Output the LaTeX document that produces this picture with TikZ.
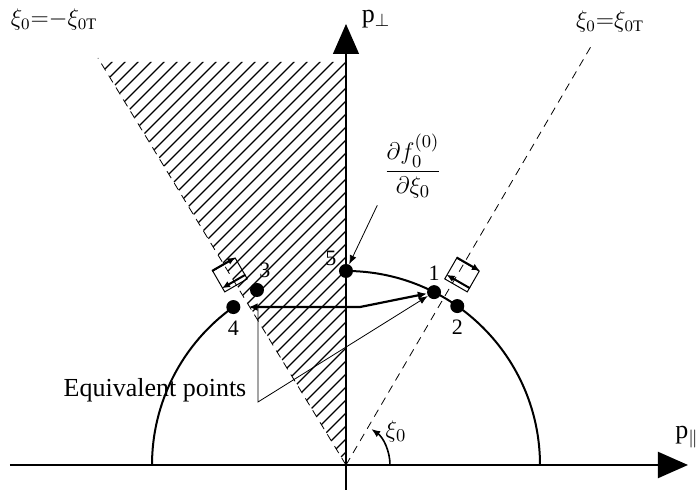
\documentclass[tikz,border=0pt]{standalone}
\usepackage{amsmath,amssymb}
\usepackage{fontspec}
\setmainfont{Liberation Serif}
\usetikzlibrary{arrows.meta, positioning, calc}

\begin{document}
\begin{tikzpicture}[
    x=0.5pt, y=0.5pt,
    axis/.style={-{Triangle[length=15pt, width=13pt]}},
    dot/.style={circle, fill=black, inner sep=0pt, minimum size=7pt},
    num/.style={font=\fontsize{11}{13}\selectfont, inner sep=1pt},
    lbl/.style={font=\fontsize{13}{15}\selectfont},
    thickarr/.style={line width=1.1pt, {Latex[length=4.5pt, width=4pt]}-{Latex[length=4.5pt, width=4pt]}},
    thinarr/.style={line width=0.4pt, -{Latex[length=4.5pt, width=3.5pt]}},
    fluxarr/.style={line width=1pt, -{Latex[length=4pt, width=3.5pt]}},
    fluxbox/.style={draw, line width=0.5pt, minimum width=13pt, minimum height=12pt, inner sep=0pt},
    guide/.style={line width=0.4pt, dash pattern=on 4pt off 3pt}
]
\useasboundingbox (-346,-37) rectangle (352,465);

% hatched region
\begin{scope}
\clip (0,0) -- (0,403) -- (-245,403) -- cycle;
\foreach \s in {-650,-637,...,0}
  \draw[line width=0.65pt] (\s,0) -- ++(420,420);
\end{scope}

% axes
\draw[axis, line width=1pt] (-336,0) -- (342,0);
\draw[axis, line width=0.6pt] (0,-25) -- (0,441);
\node[lbl] (ppar) at (341,28) {$\mathrm{p}_\parallel$};
\node[lbl, inner sep=1pt] (pperp) at (30,446) {$\mathrm{p}_\perp$};

% cone boundaries
\draw[guide] (0,0) -- (247,422);
\draw[guide] (0,0) -- (-248,407);
\node[lbl, font=\fontsize{12}{14}\selectfont] (xineg) at (-292,445) {$\xi_0{=}{-}\xi_{0\mathrm{T}}$};
\node[lbl, font=\fontsize{12}{14}\selectfont] (xipos) at (264,443) {$\xi_0{=}\xi_{0\mathrm{T}}$};

% constant energy surface
\draw[line width=1pt] (194,0) arc[start angle=0, end angle=90, radius=194];
\draw[line width=1pt] (-194,0) arc[start angle=180, end angle=125.5, radius=194];

% points
\node[dot] (p5) at (90:194) {};
\node[dot] (p1) at (63:194) {};
\node[dot] (p2) at (55:194) {};
\node[dot] (p4) at (125.5:194) {};
\node[dot] (p3) at (-89,175) {};
\node[num, above left=-1pt and 1pt of p5] (n5) {5};
\node[num, above=1pt of p1] (n1) {1};
\node[num, below=2pt of p2] (n2) {2};
\node[num, above=1pt of p3, xshift=4pt] (n3) {3};
\node[num, below=2pt of p4] (n4) {4};

% flux boxes across the boundaries
\foreach \nm/\ang/\px in {boxR/-30/116, boxL/30/-116} {
  \node[fluxbox, rotate=\ang] (\nm) at (\px,190) {};
  \draw[fluxarr] (\nm.north west) -- (\nm.north east);
  \draw[fluxarr] ($(\nm.south east)!0.2!(\nm.north east)$) -- ($(\nm.south west)!0.2!(\nm.north west)$);
}

% derivative label
\node[lbl] (frac) at (67,299) {$\dfrac{\partial f_0^{(0)}}{\partial\xi_0}$};
\draw[thinarr] (frac.south west) -- (p5);

% mapping between points
\coordinate (bend) at (14,158);
\draw[thickarr, shorten <=4pt] (p4) -- (bend) -- (p1);

% equivalent points
\node[lbl] (equiv) at (-191,75) {Equivalent points};
\coordinate (eqtop) at (-88,158);
\coordinate (eqcorner) at (-88,63);
\draw[thinarr] (eqtop) -- (eqcorner) -- (p1);

% pitch angle
\draw[thinarr, line width=0.8pt] (44,0) arc[start angle=0, end angle=55, radius=44];
\node[lbl] (xiang) at (50,33) {$\xi_0$};
\end{tikzpicture}
\end{document}
